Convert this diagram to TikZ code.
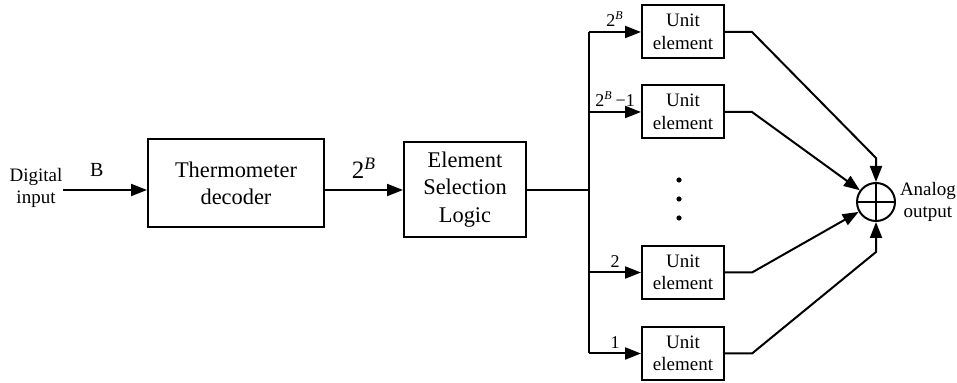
\documentclass[tikz,border=0pt]{standalone}
\usepackage{fontspec}
\setmainfont{Liberation Serif}
\usetikzlibrary{arrows, arrows.meta}
\usetikzlibrary{calc}

\begin{document}
\begin{tikzpicture}[x=0.5pt, y=-0.5pt, line width=1pt,
    block/.style={draw, align=center, inner sep=0pt},
    sig/.style={-{Triangle[length=8pt,width=6pt]}},
    small/.style={font=\fontsize{9.5}{11.2}\selectfont},
    big/.style={font=\fontsize{11.2}{13.6}\selectfont},
    lbl/.style={font=\fontsize{9}{10}\selectfont, above=1pt, inner sep=1pt}]
    \useasboundingbox (0,0) rectangle (957,383);

    \node[small, align=center, inner sep=0pt] (din) at (36,188) {Digital\\input};
    \node[block, big, minimum width=88pt, minimum height=44pt] (therm) at (236,183) {Thermometer\\decoder};
    \node[block, big, minimum width=61pt, minimum height=47.5pt] (esl) at (465,189.5) {Element\\Selection\\Logic};
    \foreach \i/\y in {4/32, 3/112, 2/272.5, 1/353.5}
      \node[block, small, minimum width=41pt, minimum height=26.5pt] (u\i) at (683,\y) {Unit\\element};
    \node[draw, circle, minimum size=19pt, inner sep=0pt] (sum) at (876,202) {};
    \node[small, align=center, anchor=west, inner sep=0pt] (aout) at (899,202) {Analog\\output};
    \coordinate (bus) at (589,190);

    \draw[sig] (din.east |- bus) -- node[pos=0.4, above=3pt, font=\fontsize{10}{12}\selectfont] {B} (therm.west |- bus);
    \draw[sig] (therm.east |- bus) -- node[midway, above=2pt, font=\fontsize{12.5}{14}\selectfont] {2\textsuperscript{\itshape B}} (esl.west |- bus);
    \draw (esl.east |- bus) -- (bus);
    \draw (bus |- u4.west) -- (bus |- u1.west);

    \draw[sig] (bus |- u4.west) -- node[lbl] {2\textsuperscript{\itshape B}} (u4.west);
    \draw[sig] (bus |- u3.west) -- node[lbl] {2\textsuperscript{\itshape B}\,−1} (u3.west);
    \draw[sig] (bus |- u2.west) -- node[lbl] {2} (u2.west);
    \draw[sig] (bus |- u1.west) -- node[lbl] {1} (u1.west);

    \foreach \y in {180,199,218}
      \fill (679,\y) circle (1.3pt);

    \draw[sig] (u4.east) -- ++(27,0) -- ($(sum.north)+(0,-24)$) -- (sum.north);
    \draw[sig] (u3.east) -- ++(27,0) -- (sum);
    \draw[sig] (u2.east) -- ++(27,0) -- (sum);
    \draw[sig] (u1.east) -- ++(27,0) -- ($(sum.south)+(0,30)$) -- (sum.south);
    \draw (sum.north) -- (sum.south) (sum.west) -- (sum.east);
\end{tikzpicture}
\end{document}
